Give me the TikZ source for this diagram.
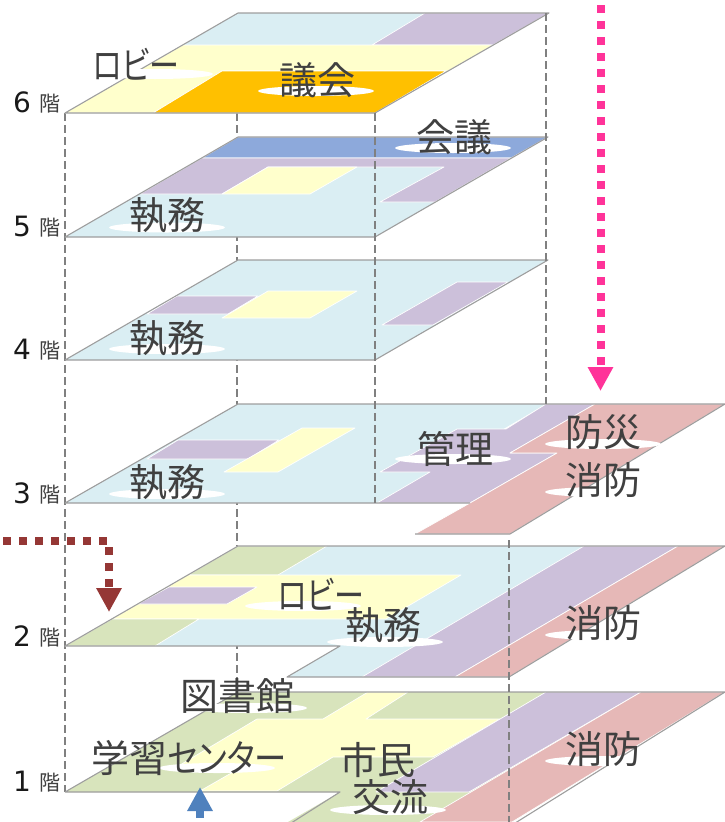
\documentclass[tikz,border=0pt]{standalone}
\usepackage{fontspec}
\usepackage{graphicx}
\setmainfont{Noto Sans CJK JP}
\newfontfamily\kanafont[RawFeature=+palt]{Noto Sans CJK JP}
\newfontfamily\digitfont{DejaVu Sans}
\usetikzlibrary{arrows.meta}
\definecolor{cblue}{HTML}{DAEEF3}
\definecolor{cyellow}{HTML}{FFFFCC}
\definecolor{corange}{HTML}{FFC000}
\definecolor{cpurple}{HTML}{CCC0DA}
\definecolor{cnavy}{HTML}{8DA9DB}
\definecolor{cpink}{HTML}{E6B8B7}
\definecolor{cgreen}{HTML}{D8E4BC}
\definecolor{ctext}{HTML}{404040}
\definecolor{cmag}{HTML}{FF3399}
\definecolor{cbrown}{HTML}{953735}
\definecolor{carrow}{HTML}{4F81BD}
\tikzset{
  band/.style={fill=#1,draw=white,line width=0.7pt,line join=round},
  outline/.style={draw=black!38,line width=1.1pt,line join=round},
  guide/.style={draw=black!50,line width=1.3pt,dash pattern=on 8pt off 4pt},
  halo/.style={fill=white,draw=none},
  lbl/.style={inner sep=0pt,text=ctext,font=\fontsize{38}{38}\selectfont},
  kana/.style={inner sep=0pt,text=ctext,font=\kanafont\fontsize{38}{38}\selectfont},
  numlbl/.style={inner sep=0pt,anchor=base,text=black!90,font=\digitfont\fontsize{28}{28}\selectfont},
  kailbl/.style={inner sep=0pt,anchor=base,text=ctext,font=\fontsize{21}{21}\selectfont},
  dotted arrow/.style={line width=8pt,dash pattern=on 8pt off 8pt,draw=#1,
     -{Triangle[length=24pt,width=24pt,#1]}},
}
\begin{document}
\begin{tikzpicture}[x=1pt,y=-1pt]
\useasboundingbox (0,0) rectangle (725,822);
\clip (0,0) rectangle (725,822);
% hidden guides
\coordinate (g1a) at (65,113);  \coordinate (g1b) at (65,792);
\coordinate (g2a) at (237,113); \coordinate (g2b) at (237,692);
\draw[guide,line width=1.15pt] (g1a) -- (g1b);
\draw[guide] (g2a) -- (g2b);

% 6F
\fill[cblue] (65,113) -- (238,13) -- (549,13) -- (375,113) -- cycle;
\path[band=cpurple] (425,13) -- (549,13) -- (493,45) -- (372,45) -- cycle;
\path[band=cyellow] (183,45) -- (493,45) -- (448,71) -- (222,71) -- (153,113) -- (65,113) -- cycle;
\path[band=corange] (222,71) -- (446,71) -- (375,113) -- (153,113) -- cycle;
\draw[outline] (65,113) -- (238,13) -- (549,13) -- (375,113) -- cycle;

% 5F
\fill[cblue] (65,237) -- (238,137) -- (548,137) -- (375,237) -- cycle;
\path[band=cnavy] (238,137) -- (548,137) -- (511,158) -- (202,158) -- cycle;
\path[band=cpurple] (202,158) -- (511,158) -- (435,202) -- (380,202) -- (444,167) -- (268,167) -- (222,194) -- (140,194) -- cycle;
\path[band=cyellow] (222,194) -- (310,194) -- (357,167) -- (268,167) -- cycle;
\draw[outline] (65,237) -- (238,137) -- (548,137) -- (375,237) -- cycle;

% 4F
\fill[cblue] (65,360) -- (238,260) -- (548,260) -- (375,360) -- cycle;
\path[band=cpurple] (177,296) -- (258,296) -- (228,314) -- (147,314) -- cycle;
\path[band=cyellow] (268,291) -- (357,291) -- (310,318) -- (222,318) -- cycle;
\path[band=cpurple] (382,325) -- (457,282) -- (508,282) -- (433,325) -- cycle;
\draw[outline] (65,360) -- (238,260) -- (548,260) -- (375,360) -- cycle;

% 3F
\fill[cblue] (65,503) -- (238,404) -- (546,404) -- (377,503) -- cycle;
\path[band=cpurple] (178,440) -- (279,440) -- (248,459) -- (147,459) -- cycle;
\path[band=cyellow] (302,428) -- (355,428) -- (278,472) -- (224,472) -- cycle;
\path[band=cpurple] (546,404) -- (595,404) -- (510,453) -- (557,453) -- (470,503) -- (377,503) -- (430,472) -- (380,472) -- (457,429) -- (506,429) -- cycle;
\path[band=cpink] (595,404) -- (725,404) -- (510,534) -- (415,534) -- (470,503) -- (557,453) -- (510,453) -- cycle;
\draw[outline] (415,534) -- (510,534) -- (725,404) -- (238,404) -- (65,503) -- (470,503);

% 2F
\fill[cblue] (65,646) -- (238,546) -- (725,546) -- (509,677) -- (287,677) -- (340,646) -- cycle;
\path[band=cgreen] (238,546) -- (327,546) -- (278,575) -- (188,575) -- cycle;
\path[band=cyellow] (188,575) -- (461,575) -- (386,619) -- (112,619) -- cycle;
\path[band=cgreen] (112,619) -- (199,619) -- (155,646) -- (65,646) -- cycle;
\path[band=cpurple] (169,587) -- (257,587) -- (227,604) -- (138,604) -- cycle;
\path[band=cpurple] (584,546) -- (678,546) -- (455,677) -- (362,677) -- cycle;
\path[band=cpink] (678,546) -- (725,546) -- (509,677) -- (455,677) -- cycle;
\draw[outline] (65,646) -- (238,546) -- (725,546) -- (509,677) -- (287,677) -- (340,646) -- cycle;

% 1F
\fill[cgreen] (65,792) -- (238,692) -- (725,692) -- (512,822) -- (288,822) -- (340,792) -- cycle;
\path[band=cyellow] (368,692) -- (408,692) -- (366,719) -- (500,719) -- (433,757) -- (333,757) -- (277,791) -- (200,791) -- (240,768) -- (175,768) -- (257,719) -- (323,719) -- cycle;
\path[band=cpurple] (546,692) -- (641,692) -- (469,792) -- (376,792) -- cycle;
\path[band=cpink] (641,692) -- (725,692) -- (512,822) -- (420,822) -- cycle;
\draw[outline] (65,792) -- (238,692) -- (725,692) -- (512,825) (288,825) -- (340,792) -- (65,792);

% label halos
\foreach \cx/\cy in {155/74,316/91,453/148,167/227.5,167/349,167/494,453/459,603/444,603/492,303/606,385/642,603/635,249/708,217/768,388/810,603/761}
  \fill[halo] (\cx,\cy) ellipse [x radius=58pt,y radius=5pt];

% front guides
\coordinate (g3a) at (375,113); \coordinate (g3b) at (375,503);
\coordinate (g4a) at (546,13);  \coordinate (g4b) at (546,404);
\coordinate (g5a) at (509,540); \coordinate (g5b) at (509,822);
\draw[guide] (g3a) -- (g3b);
\draw[guide] (g4a) -- (g4b);
\draw[guide] (g5a) -- (g5b);

% labels
\node[kana] (t6a) at (136,64) {\scalebox{.79}[1]{ロビー}};
\node[lbl] (t6b) at (317,80) {議会};
\node[lbl] (t5a) at (454,137) {会議};
\node[lbl] (t5b) at (167,215) {執務};
\node[lbl] (t4a) at (167,338) {執務};
\node[lbl] (t3a) at (167,482) {執務};
\node[lbl] (t3b) at (455,449) {管理};
\node[lbl] (t3c) at (603,432) {防災};
\node[lbl] (t3d) at (603,480) {消防};
\node[kana] (t2a) at (321,594) {\scalebox{.79}[1]{ロビー}};
\node[lbl] (t2b) at (383,625) {執務};
\node[lbl] (t2c) at (603,623) {消防};
\node[lbl] (t1a) at (237,696) {図書館};
\node[kana] (t1b) at (189,758) {学習\scalebox{.85}[1]{センター}};
\node[lbl] (t1c) at (377,760) {市民};
\node[lbl] (t1d) at (390,797) {交流};
\node[lbl] (t1e) at (603,749) {消防};

% floor labels
\foreach \n/\by in {6/112,5/236,4/359,3/503,2/646,1/791}{
  \node[numlbl] (n\n) at (22,\by) {\n};
  \node[kailbl] (k\n) at (49.5,\by-1) {階};
}

% arrows
\coordinate (mA) at (600.5,5);  \coordinate (mB) at (600.5,391);
\draw[dotted arrow=cmag] (mA) -- (mB);
\coordinate (bA) at (3,541);  \coordinate (bB) at (109,612);
\draw[dotted arrow=cbrown] (bA) -| (bB);
\coordinate (cA) at (200,818); \coordinate (cB) at (200,787);
\draw[line width=8pt,draw=carrow,-{Triangle[length=24pt,width=24pt,carrow]}] (cA) -- (cB);
\end{tikzpicture}
\end{document}
